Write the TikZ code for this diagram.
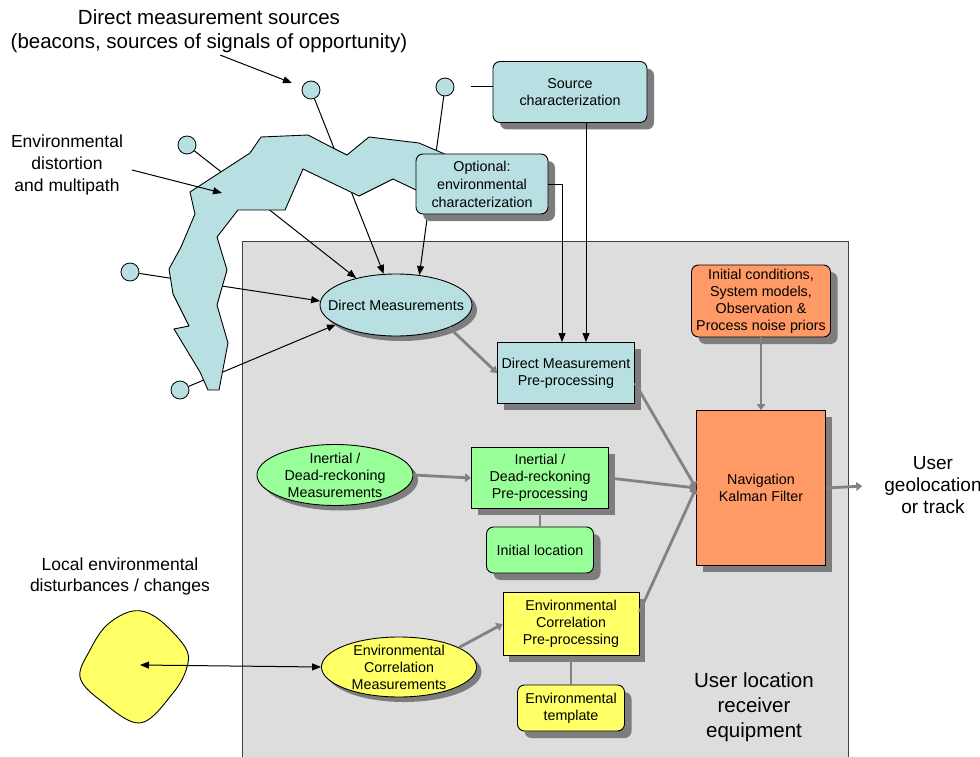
\documentclass[tikz,border=0pt]{standalone}
\usepackage{fontspec}
\setmainfont{Liberation Sans}
\usetikzlibrary{shapes.geometric,arrows.meta,shadows,calc}
\definecolor{cy}{RGB}{184,224,226}
\definecolor{gr}{RGB}{153,255,153}
\definecolor{ye}{RGB}{255,255,102}
\definecolor{orn}{RGB}{255,153,102}
\definecolor{bxg}{RGB}{221,221,221}
\definecolor{shd}{RGB}{125,125,125}
\definecolor{arg}{RGB}{130,130,130}
\pgfdeclarelayer{bg}\pgfdeclarelayer{lnk}\pgfdeclarelayer{blobl}
\pgfsetlayers{bg,lnk,blobl,main}
\begin{document}
\begin{tikzpicture}[x=1pt,y=-1pt,
 txt/.style={font=\fontsize{14.3}{17}\selectfont, align=center, inner sep=0pt},
 shad/.style={drop shadow={shadow xshift=#1, shadow yshift=-#1, fill=shd, opacity=1}},
 rbox/.style={draw=black, line width=0.9pt, rounded corners=7pt, txt, shad=7pt},
 sbox/.style={draw=black, line width=0.9pt, txt, shad=6pt},
 ell/.style={ellipse, draw=black, line width=0.9pt, inner sep=0pt, shad=5pt},
 beacon/.style={circle, draw=black, fill=cy, minimum size=18pt, inner sep=0pt, line width=0.8pt},
 blk/.style={draw=black, line width=1pt, -{Triangle[length=9pt,width=7pt]}},
 garr/.style={draw=arg, line width=2.8pt, -{Triangle[length=6pt,width=8.5pt]}},
 lbl/.style={align=center, inner sep=0pt}
]
\useasboundingbox (0,0) rectangle (980,757);

% receiver equipment box
\begin{pgfonlayer}{bg}
\fill[bxg] (242,241) rectangle (848,757);
\draw[black!75, line width=1pt] (242,757) -- (242,241) -- (848,241) -- (848,757);
\end{pgfonlayer}

% beacons
\node[beacon] (c1) at (311,90) {};
\node[beacon] (c2) at (445,87) {};
\node[beacon] (c3) at (187,145) {};
\node[beacon] (c4) at (130,272) {};
\node[beacon] (c5) at (180,390) {};

% nodes
\node[rbox, fill=cy, minimum width=154pt, minimum height=61pt] (src) at (570,92) {Source\\characterization};
\node[rbox, fill=cy, minimum width=132pt, minimum height=60pt, font=\fontsize{14.3}{18}\selectfont] (opt) at (482,184) {Optional:\\environmental\\characterization};
\node[ell, fill=cy, minimum width=152pt, minimum height=62pt, label={[txt,name=dmt]center:Direct Measurements}] (dm) at (396,305) {};
\node[sbox, fill=cy, minimum width=137pt, minimum height=61pt] (dmpp) at (566,373) {Direct Measurement\\Pre-processing};
\node[rbox, fill=orn, minimum width=139pt, minimum height=72pt] (icond) at (761,301) {Initial conditions,\\System models,\\Observation \&\\Process noise priors};
\node[sbox, fill=orn, minimum width=129pt, minimum height=155pt] (nkf) at (761,488) {Navigation\\Kalman Filter};
\node[ell, fill=gr, minimum width=156pt, minimum height=61pt, label={[txt,name=inet]center:Inertial /\\Dead-reckoning\\Measurements}] (ine) at (335,475) {};
\node[sbox, fill=gr, minimum width=137pt, minimum height=61pt] (inpp) at (540,478) {Inertial /\\Dead-reckoning\\Pre-processing};
\node[rbox, fill=gr, minimum width=107pt, minimum height=46pt] (iloc) at (540,550) {Initial location};
\node[sbox, fill=ye, minimum width=136pt, minimum height=63pt] (ecpp) at (571,624) {Environmental\\Correlation\\Pre-processing};
\node[rbox, fill=ye, minimum width=107pt, minimum height=46pt] (tmpl) at (571,708) {Environmental\\template};
\node[ell, fill=ye, minimum width=155pt, minimum height=60pt, label={[txt,name=ecmt]center:Environmental\\Correlation\\Measurements}] (ecm) at (399,667) {};

% labels
\node[lbl, font=\fontsize{20.5}{24.5}\selectfont] (ttl) at (209,31) {Direct measurement sources\\(beacons, sources of signals of opportunity)};
\node[lbl, font=\fontsize{17.5}{22}\selectfont] (envl) at (67,165) {Environmental\\distortion\\and multipath};
\node[lbl, font=\fontsize{17.5}{21}\selectfont] (locl) at (120,576) {Local environmental\\disturbances / changes};
\node[lbl, font=\fontsize{20.5}{25}\selectfont] (ule) at (754,707) {User location\\receiver\\equipment};
\node[lbl, font=\fontsize{19}{22}\selectfont] (geo) at (933,485) {User\\geolocation\\or track};

% beacon paths (behind the distortion region)
\begin{pgfonlayer}{lnk}
\draw[blk] (c1) -- (dm);
\draw[blk] (c2) -- (dm.52);
\draw[blk] (c3) -- (dm.146);
\draw[blk] (c4) -- (dm.177);
\draw[blk] (c5) -- (dm.198);
\end{pgfonlayer}

% distortion / multipath region
\begin{pgfonlayer}{blobl}
\draw[fill=cy, line width=0.9pt, line join=miter]
 (190,192) -- (250,153) -- (261,137) -- (308,135) -- (333,148) -- (347,155) -- (369,137)
 -- (419,143) -- (440,152) -- (470,165) -- (470,195) -- (416,190) -- (393,179) -- (359,196)
 -- (303,169) -- (285,210) -- (238,210) -- (217,237) -- (227,270) -- (217,305) -- (228,343)
 -- (219,390) -- (208,390) -- (200,372) -- (174,329) -- (189,326) -- (173,294) -- (169,269)
 -- (181,247) -- (195,214) -- cycle;
\end{pgfonlayer}

% label arrows
\coordinate (ta) at (220,55); \coordinate (tb) at (292,83);
\draw[blk] (ta) -- (tb);
\coordinate (ea) at (132,170); \coordinate (eb) at (222,193);
\draw[blk] (ea) -- (eb);

% source characterization links
\coordinate (sl) at (471,87);
\draw[line width=1pt] (sl) -- (src.west |- sl);
\draw[blk] ([xshift=16pt]src.south) -- ([xshift=16pt]src.south |- dmpp.north);
\draw[blk] (opt.east) -| ([xshift=-4pt]dmpp.north);

% local disturbance
\draw[fill=ye, line width=0.9pt] plot[smooth cycle, tension=0.6] coordinates {(133,611) (157,618) (185,647) (187,667) (173,693) (140,723) (100,700) (80,677) (90,650) (107,625)};
\coordinate (yb) at (140,665);
\draw[line width=1pt, {Triangle[length=9pt,width=7pt]}-{Triangle[length=9pt,width=7pt]}] (yb) -- (ecm.west);

% processing flow
\draw[garr] (dm.-23) -- (dmpp.west);
\draw[garr] ([yshift=-10pt]dmpp.east) -- (nkf.west);
\draw[garr] (ine.east) -- (inpp.west);
\draw[garr] (inpp.east) -- (nkf.west);
\draw[garr] (iloc.north) -- (inpp.south);
\draw[garr] (ecm.18) -- (ecpp.west);
\draw[garr] ([yshift=12pt]ecpp.east) -- (nkf.west);
\draw[garr] (tmpl.north) -- (ecpp.south);
\draw[garr] (icond.south) -- (nkf.north);
\draw[garr, shorten >=22pt] (nkf.east) -- (geo.west);
\end{tikzpicture}
\end{document}
